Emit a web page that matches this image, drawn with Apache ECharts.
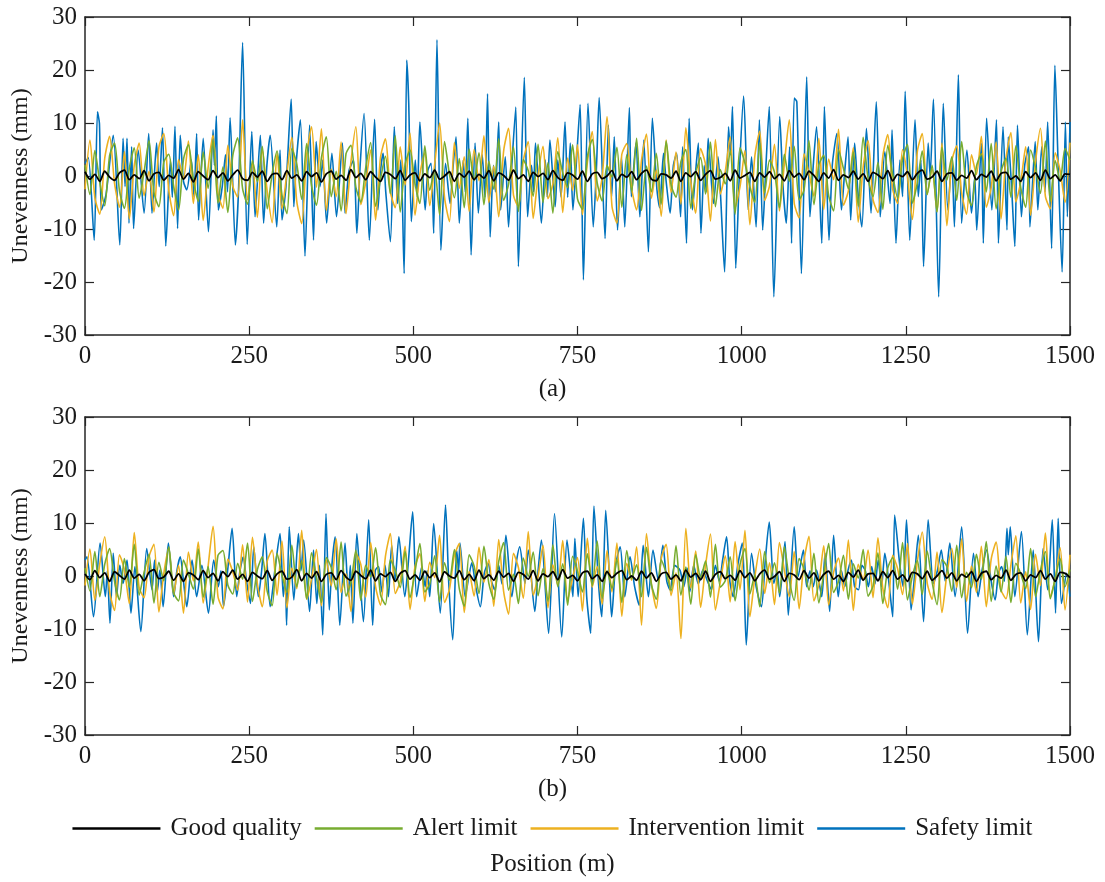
<!DOCTYPE html>
<html><head><meta charset="utf-8">
<script src="https://cdn.jsdelivr.net/npm/echarts@6/dist/echarts.min.js"></script>
<style>html,body{margin:0;padding:0;background:#fff}#c{width:1105px;height:882px}</style>
</head><body><div id="c"></div>
<script>
// ---------- DATA ----------
const seriesNames = ['Good quality', 'Alert limit', 'Intervention limit', 'Safety limit'];
const xTickValues = [0, 250, 500, 750, 1000, 1250, 1500];
const yTickValues = [-30, -20, -10, 0, 10, 20, 30];

// sample positions (m) for the evenly sampled lines: 0, 7.5, ..., 1500
const positions = [];
for (let i = 0; i <= 200; i++) positions.push(i * 7.5);

// Panel (a)
const goodA = [0.8,-0.6,0.3,-1.0,0.9,-0.2,-0.8,0.6,1.1,-0.7,0.2,-0.5,1.0,-0.9,0.4,0.7,-0.8,0.1,-0.4,1.2,
-0.6,0.5,-1.1,0.8,0.0,-0.7,1.0,-0.3,0.6,-0.9,0.2,1.1,-0.5,-0.8,0.7,-0.2,0.9,-1.0,0.3,0.5,
-0.7,1.0,-0.4,0.2,-0.9,0.8,-0.1,0.6,-1.1,0.4,0.9,-0.6,0.1,-0.8,1.2,-0.3,0.5,-0.7,0.8,-0.2,
-1.0,0.7,0.3,-0.5,1.0,-0.8,0.2,0.6,-0.9,0.4,-0.3,1.1,-0.6,0.0,0.8,-1.0,0.5,-0.2,0.9,-0.7,
0.3,-0.4,1.0,-0.9,0.6,0.1,-0.8,1.1,-0.5,0.2,-1.0,0.7,-0.1,0.5,-0.7,1.0,-0.3,-0.8,0.6,0.2,
-0.6,0.9,-1.0,0.4,0.7,-0.5,0.0,1.0,-0.9,0.3,-0.2,0.8,-0.7,0.5,1.1,-0.6,-0.9,0.4,0.2,-0.4,
0.9,-1.0,0.6,-0.1,0.8,-0.8,0.3,1.0,-0.6,-0.3,0.5,-0.9,1.1,-0.4,0.1,0.7,-1.0,0.6,-0.2,0.8,
-0.5,0.3,-0.9,1.0,-0.2,0.5,-0.7,0.9,0.1,-1.0,0.6,-0.4,1.2,-0.8,0.2,-0.3,0.9,-0.6,0.4,-1.0,
0.7,0.2,-0.5,1.0,-0.9,0.3,-0.1,0.8,-0.7,0.5,1.1,-0.6,-0.2,0.9,-1.0,0.4,0.6,-0.8,0.1,-0.4,
1.0,-0.7,0.3,-0.2,0.9,-0.9,0.5,0.7,-0.6,0.0,-1.0,0.8,-0.3,0.6,-0.8,1.1,-0.5,0.2,-0.9,0.4,0.3];

const alertA = [2.1,-3.5,4.8,-1.2,-5.6,3.9,6.2,-2.8,-6.1,1.5,5.3,-4.2,0.8,6.7,-3.1,-5.8,2.6,4.1,-1.9,-6.4,
3.2,5.9,-0.7,-4.8,4.5,-2.3,6.8,-5.1,1.7,-6.9,3.8,7.2,-2.4,-5.3,2.9,-1.1,5.6,-6.2,0.4,4.7,
-3.6,-7.1,5.2,2.3,-4.4,6.1,-1.8,-5.5,3.4,7.4,-3.9,0.9,-6.6,4.2,5.8,-2.1,-4.9,1.6,6.3,-5.7,
-0.6,3.7,-3.3,7.6,-6.8,2.2,4.9,-1.4,-5.2,5.7,-2.7,1.3,-7.3,6.5,0.3,-4.1,3.3,-6.0,5.1,-0.9,
4.4,-5.4,2.8,-2.5,7.0,-4.6,-1.6,5.5,-6.7,3.1,1.0,-3.8,6.0,-5.0,2.5,-7.0,4.6,0.6,-2.2,5.9,
-4.3,-6.3,3.6,6.9,-1.3,-4.7,2.0,-0.2,5.4,-5.9,4.0,-2.9,7.1,-6.5,1.9,-3.0,4.3,-5.3,6.6,-1.7,
-4.0,2.7,5.0,-6.1,0.5,3.5,-3.4,6.4,-5.8,1.2,-1.5,4.8,-7.2,5.3,2.4,-2.0,-5.0,6.2,-3.2,3.0,
0.7,-6.0,4.1,-1.0,5.6,-4.5,-2.6,6.7,-5.4,2.1,3.9,-3.7,-6.6,5.0,1.4,-2.4,4.5,-5.7,7.3,-0.5,
-3.9,2.6,-6.3,5.8,0.2,-4.2,3.2,6.0,-5.1,-1.3,4.7,-3.5,2.0,-6.8,5.4,-0.8,3.6,-4.6,6.5,-2.8,
-5.6,1.8,4.2,-3.0,6.1,-6.2,0.8,3.4,-4.0,5.7,-2.2,-5.9,4.9,1.5,-3.3,6.6,-4.8,2.9,-1.0,5.2,3.0];

const interventionA = [-2.5,6.8,-4.1,-7.2,3.3,7.5,-1.4,-5.9,4.6,-8.1,2.0,6.2,-3.7,0.9,-6.8,5.4,8.0,-2.6,-7.5,3.1,
-0.5,6.6,-5.2,4.0,-8.4,1.6,7.7,-3.3,-6.1,5.8,-1.9,-4.0,10.6,-4.5,2.4,-7.8,5.0,-2.9,-8.8,4.3,
-6.2,0.6,7.3,-4.8,-9.0,3.9,9.3,-2.1,8.9,-6.5,1.3,-3.9,6.4,-7.1,2.7,9.3,-5.4,-1.2,4.9,-8.3,
3.5,7.0,-3.0,-6.0,5.5,-1.7,8.1,-7.4,0.4,4.4,-5.6,2.2,10.0,-4.0,-8.6,6.3,-2.3,3.6,-6.7,5.0,
-0.9,7.6,-5.0,1.9,-7.7,4.7,9.0,-3.6,-5.8,2.9,6.5,-8.0,0.1,5.6,-4.3,-1.5,7.2,-6.9,3.4,-2.7,
5.9,-7.3,2.5,8.4,-4.7,-0.3,11.2,-5.7,-8.9,4.1,6.1,-2.4,-6.4,3.0,7.9,-4.2,1.1,-7.6,6.8,-3.1,
4.5,-5.3,9.1,-1.0,-7.0,5.2,2.1,-8.5,6.9,-3.4,0.8,7.4,-6.0,-2.0,4.8,-9.2,3.7,8.5,-4.6,-1.8,
6.0,-6.6,2.3,10.6,-5.1,-7.9,4.2,0.5,-3.8,7.1,-6.3,3.2,-0.7,8.8,-5.5,-2.8,5.3,-8.7,1.7,6.7,
-4.4,-6.9,3.8,7.8,-2.5,-5.2,5.0,-0.1,-8.2,4.6,8.0,-3.5,1.4,-6.7,6.2,-9.4,2.8,5.7,-3.2,-7.2,
4.0,0.3,7.5,-5.9,-2.2,6.4,-8.1,3.3,8.2,-4.9,-1.1,5.5,-7.4,2.6,9.0,-3.8,-6.2,4.4,1.0,-5.0,6.3];

// Safety limit, panel (a): [position m, unevenness mm] read at turning points
const safetyA = [[0,2.4],[5,3.5],[14,-12.1],[19,12.1],[22,9.9],[25,-6.4],[32,-3.5],[43,7.7],[53,-13.0],[58,7.1],[61,-2.0],[64,7.1],[67,-8.9],[71,5.5],[74,-9.9],[81,4.9],[90,-7.0],[97,8.0],[102,-7.0],[109,6.2],[113,-2.0],[118,9.1],[123,-13.2],[130,3.0],[133,-4.0],[137,9.4],[141,-9.9],[145,7.7],[150,-1.0],[155,-2.6],[162,3.0],[166,-4.0],[170,8.0],[173,-8.3],[180,7.1],[188,-10.5],[195,8.7],[197,2.0],[200,11.3],[203,-6.4],[209,-2.0],[214,4.0],[217,-3.0],[221,11.0],[229,-13.0],[234,-2.0],[240,25.2],[247,-12.9],[254,8.4],[259,-7.7],[267,7.7],[272,-8.9],[277,2.0],[282,7.7],[292,-9.6],[297,4.9],[300,-8.3],[306,-2.0],[314,14.5],[318,-5.8],[322,3.0],[328,10.6],[335,-15.1],[342,9.6],[348,-12.1],[352,6.5],[358,-2.0],[362,3.0],[368,-8.9],[376,4.3],[383,-7.7],[392,6.2],[396,-7.0],[402,1.0],[409,3.0],[414,-10.8],[419,2.0],[425,11.8],[433,-12.1],[441,10.7],[446,-6.4],[450,1.0],[454,4.3],[458,-3.0],[465,-12.4],[471,9.3],[476,-5.2],[481,3.0],[486,-18.4],[490,21.9],[493,13.7],[497,-8.6],[503,3.0],[506,-4.0],[510,10.2],[518,-6.4],[522,1.0],[527,2.4],[531,-10.8],[536,25.7],[542,-14.0],[549,2.4],[556,-5.2],[560,1.0],[565,7.4],[570,-8.9],[576,3.0],[579,-3.0],[583,10.9],[588,-14.9],[594,6.2],[599,-7.0],[605,4.0],[609,-4.0],[613,15.5],[617,-11.5],[622,2.0],[625,-3.0],[630,10.2],[633,-6.4],[640,3.6],[645,-9.6],[650,2.0],[656,13.0],[660,-17.1],[669,18.6],[674,-7.7],[680,2.0],[683,-3.0],[686,6.2],[695,-8.9],[701,3.0],[704,-4.0],[708,6.8],[716,-5.8],[720,3.0],[725,-4.0],[731,10.2],[735,-4.0],[739,6.2],[743,-6.4],[748,2.0],[754,13.5],[759,-19.6],[766,13.7],[774,-9.6],[779,2.0],[783,14.8],[792,-11.8],[797,9.6],[802,-3.9],[806,7.4],[811,-10.2],[817,3.6],[822,-9.6],[829,12.9],[832,-3.9],[839,6.2],[845,-7.7],[851,6.8],[858,-14.3],[864,10.9],[871,-2.6],[875,-6.0],[881,4.3],[885,-1.0],[891,-7.0],[896,2.0],[901,4.3],[907,-7.7],[910,5.5],[916,-12.7],[920,10.9],[925,-6.4],[930,1.0],[934,6.2],[938,-10.8],[943,2.0],[946,-3.0],[949,7.1],[957,-5.2],[964,3.6],[968,-4.0],[974,-18.1],[980,9.3],[983,4.0],[986,13.1],[991,-17.4],[997,2.0],[1003,15.1],[1010,-6.4],[1015,3.6],[1022,-9.6],[1027,10.6],[1032,-10.2],[1037,2.0],[1042,13.1],[1049,-22.8],[1058,11.2],[1063,-2.0],[1068,-8.9],[1073,5.5],[1076,-12.7],[1080,14.7],[1084,14.0],[1091,-18.4],[1099,18.7],[1104,-7.7],[1109,2.0],[1114,9.3],[1122,-12.7],[1126,13.1],[1133,-12.1],[1138,2.0],[1145,8.0],[1152,-6.4],[1157,1.0],[1162,7.4],[1166,-8.3],[1172,6.2],[1177,-3.0],[1183,-9.6],[1190,9.0],[1197,-7.0],[1205,14.0],[1211,-7.7],[1218,4.6],[1226,-5.2],[1229,8.7],[1235,-12.7],[1241,3.0],[1245,-3.9],[1249,16.0],[1256,-12.1],[1264,10.6],[1269,-3.9],[1273,3.0],[1277,-17.1],[1284,6.2],[1287,0.0],[1292,14.5],[1300,-22.8],[1307,13.7],[1314,-6.4],[1320,3.0],[1324,-9.6],[1330,19.1],[1335,-8.9],[1343,4.9],[1350,-7.0],[1355,-0.1],[1358,-10.2],[1365,6.2],[1368,-12.7],[1373,10.9],[1381,-6.4],[1388,10.6],[1391,-12.7],[1398,9.3],[1404,-10.2],[1406,7.4],[1411,-2.0],[1416,-13.3],[1420,9.6],[1426,-7.7],[1431,2.0],[1437,5.5],[1439,-9.6],[1447,6.5],[1451,-6.4],[1457,5.5],[1462,-3.0],[1466,10.2],[1472,-13.7],[1477,20.9],[1482,2.0],[1488,-18.1],[1493,10.2],[1496,-7.7],[1500,10.2]];

// Panel (b)
const goodB = [0.4,-0.7,1.0,-0.3,0.6,-1.0,0.8,0.1,-0.6,1.1,-0.4,0.3,-0.9,0.7,1.2,-0.5,-0.2,0.9,-0.8,0.4,
-1.0,0.6,0.2,-0.7,1.0,-0.3,0.5,-0.9,0.8,-0.1,1.1,-0.6,0.3,-1.0,0.7,0.0,-0.5,1.0,-0.8,0.4,
0.9,-0.6,-0.2,1.2,-0.9,0.5,-0.4,0.8,-1.0,0.3,0.6,-0.7,1.0,-0.2,-0.8,0.9,0.1,-0.5,1.1,-0.9,
0.4,-0.1,0.7,-1.0,0.5,1.0,-0.6,0.2,-0.8,0.9,-0.3,0.6,-1.1,0.8,0.0,-0.4,1.0,-0.7,0.3,-0.9,
1.1,-0.5,0.2,-0.8,0.9,-0.2,0.5,-1.0,0.7,0.3,-0.6,1.0,-0.9,0.4,-0.1,0.8,-0.7,1.2,-0.4,0.1,
-0.9,0.6,0.9,-0.5,0.2,-1.0,0.8,-0.3,0.5,1.0,-0.7,0.0,-0.8,0.9,-0.4,0.6,-1.0,0.4,0.7,-0.6,
0.2,-0.9,1.1,-0.2,0.5,-0.7,0.9,-1.0,0.3,0.8,-0.5,0.1,-0.8,1.0,-0.3,0.6,-0.9,0.4,1.1,-0.6,
-0.1,0.8,-1.0,0.5,0.2,-0.7,1.0,-0.4,0.6,-0.9,0.3,0.9,-0.6,0.1,-1.0,0.7,-0.2,1.1,-0.8,0.4,
0.5,-0.9,0.8,-0.3,1.0,-0.6,0.2,-1.0,0.7,0.4,-0.5,0.9,-0.8,0.0,1.0,-0.4,0.6,-0.9,0.3,-0.2,
0.8,-1.0,0.5,0.9,-0.7,0.1,-0.4,1.1,-0.8,0.3,0.6,-0.9,0.2,-0.3,1.0,-0.6,0.4,-1.0,0.7,0.5,-0.3];

const alertB = [1.5,-2.8,4.6,-3.9,2.2,5.2,-1.0,-4.5,3.3,-2.1,6.0,-3.6,0.7,4.1,-5.1,2.6,-0.9,5.5,-3.2,-4.7,
3.0,0.4,-2.5,5.1,-4.0,1.8,-5.3,3.9,4.8,-1.7,-3.4,2.4,-0.6,6.2,-4.8,1.2,3.6,-2.9,-5.6,4.3,
0.1,-3.1,5.8,-2.0,2.9,-4.3,4.4,-0.4,-5.0,3.5,1.6,-2.6,6.4,-3.8,-1.2,4.9,-4.6,2.0,-0.2,5.3,
-3.5,-5.4,3.1,1.1,-2.2,4.7,-4.1,0.8,6.1,-3.0,-1.5,3.8,-4.9,2.5,-0.8,5.0,-2.4,-5.7,4.0,1.9,
-3.3,5.6,-1.4,-4.4,2.7,6.3,-2.7,0.3,-5.2,3.4,-0.1,4.5,-3.7,1.4,-4.8,5.9,-2.0,2.3,-5.5,3.7,
0.9,-3.0,4.2,-1.8,6.6,-4.2,1.0,-2.3,3.2,-5.0,4.8,-0.5,2.1,-3.9,5.4,-1.6,-4.4,3.0,0.6,-2.8,
5.7,-3.6,1.7,-5.3,4.0,-0.3,2.8,-4.0,6.0,-2.1,-0.9,3.6,-4.7,2.2,5.2,-3.4,0.2,-5.8,4.6,-1.3,
2.5,-3.2,5.5,-0.7,-4.6,3.3,1.3,-2.7,4.3,-5.1,0.5,6.1,-3.1,-1.0,3.9,-4.4,2.3,-0.4,5.0,-3.8,
-1.9,4.4,-5.2,1.5,3.5,-2.5,6.3,-4.5,0.0,2.9,-3.5,4.7,-1.1,-5.4,3.1,1.8,-2.9,5.8,-4.1,0.7,
-2.2,4.1,-0.6,6.5,-4.8,1.9,-3.0,3.7,-5.0,2.4,0.4,-2.4,5.2,-3.9,1.1,4.6,-4.3,-0.5,3.3,-2.0,1.2];

const interventionB = [-1.8,5.1,-4.6,2.3,7.4,-3.0,-6.5,4.0,1.2,-5.2,8.2,-2.2,-4.1,3.6,6.0,-6.8,0.5,5.3,-3.4,2.0,
-7.0,4.5,-0.9,6.4,-5.1,1.9,9.4,-3.9,-6.2,3.2,0.8,-2.7,5.9,-4.9,7.3,-1.5,-5.8,2.8,4.9,-3.6,
6.6,-6.0,1.5,-2.4,8.6,-4.4,-0.6,5.0,-5.6,3.0,-1.9,7.0,-3.1,0.4,-6.7,4.4,2.2,-4.0,6.3,-2.0,
-5.5,3.7,8.0,-3.3,-1.0,5.6,-6.3,1.7,4.2,-4.8,2.6,-0.3,7.7,-5.0,-2.5,3.9,6.1,-6.9,0.9,-3.8,
5.4,-1.2,3.1,-5.7,6.9,-2.9,-7.2,4.3,1.6,-4.2,8.4,-3.6,0.0,5.8,-6.0,2.1,-1.7,6.7,-4.5,-0.4,
3.5,-6.6,7.1,-2.1,1.8,-5.3,4.8,-3.0,6.2,-7.6,2.4,-0.8,5.5,-9.3,8.0,-1.4,-6.1,3.3,6.0,-3.7,
0.6,-11.8,9.0,-2.3,4.7,-5.9,2.0,7.9,-6.4,-1.1,3.8,-4.9,6.5,-2.6,8.6,-7.7,-0.2,5.1,-3.3,2.5,
-5.4,6.3,1.1,-3.9,4.6,-6.2,2.9,7.5,-4.7,-1.6,5.7,-5.5,0.7,3.4,-2.8,6.8,-6.5,2.2,-0.7,4.9,
-4.1,7.2,-2.4,-6.0,3.9,1.4,-3.5,6.1,-5.3,2.7,8.3,-1.3,-4.4,4.5,-6.9,0.3,5.2,-2.2,7.0,-4.8,
1.9,-3.1,5.6,-5.8,3.2,6.4,-2.6,-4.3,2.1,7.6,-5.1,0.8,-6.3,4.1,-1.8,8.1,-3.9,-0.5,5.3,-6.4,4.0];

// Safety limit, panel (b): [position m, unevenness mm] read at turning points
const safetyB = [[0,3.0],[3,3.6],[13,-7.7],[23,6.2],[31,-3.9],[34,1.0],[38,-8.9],[43,4.3],[48,-3.9],[53,2.0],[58,-1.4],[64,3.0],[70,-7.0],[76,1.8],[85,-10.5],[94,5.2],[102,-2.6],[106,3.0],[110,-3.0],[114,1.1],[119,-5.8],[127,6.2],[135,-3.9],[140,1.0],[145,3.6],[150,-1.0],[155,-5.8],[163,3.0],[170,-3.9],[178,2.0],[188,-7.0],[196,3.0],[203,-2.0],[207,1.0],[211,-5.8],[218,2.0],[224,9.0],[231,-3.9],[236,1.0],[241,3.6],[246,-1.0],[252,-5.2],[257,5.5],[264,-3.9],[269,1.0],[274,8.0],[282,-5.8],[290,2.0],[297,8.0],[302,-3.9],[305,0.0],[307,-9.3],[311,9.3],[318,-4.5],[325,8.0],[329,1.0],[333,6.8],[342,-6.7],[348,4.9],[353,-5.2],[357,2.0],[362,-11.1],[367,11.8],[372,-6.4],[376,2.0],[381,7.4],[388,-9.3],[396,6.2],[401,-3.9],[404,2.0],[408,-8.9],[414,8.0],[419,-1.0],[424,-8.6],[432,10.6],[438,-9.3],[442,1.0],[447,1.8],[452,-3.0],[457,2.0],[462,-3.9],[467,5.8],[472,-1.0],[478,7.4],[487,-3.9],[492,2.0],[499,12.1],[505,-3.9],[513,1.8],[518,-2.0],[521,1.0],[525,-3.9],[531,9.9],[541,-7.0],[549,13.4],[554,-1.4],[560,-12.0],[566,4.9],[569,1.0],[571,6.2],[579,-3.9],[584,-0.5],[589,2.5],[595,-2.0],[602,-5.8],[608,0.5],[614,2.4],[619,-1.0],[624,-2.6],[630,2.0],[635,-1.5],[641,7.7],[650,-3.9],[656,2.0],[662,5.5],[670,-1.4],[675,4.9],[685,-6.7],[690,1.0],[695,6.8],[706,-10.8],[715,11.8],[726,-11.5],[734,6.8],[739,1.1],[743,-3.9],[746,7.1],[751,-3.9],[759,10.9],[764,-3.9],[770,-10.8],[775,13.2],[782,-1.4],[787,-7.7],[793,12.4],[799,-1.4],[802,-7.7],[808,2.0],[815,5.5],[822,-3.9],[830,3.6],[837,-2.0],[844,-5.5],[850,5.8],[858,-3.9],[865,4.9],[873,-0.8],[880,5.8],[886,-1.0],[891,-2.6],[898,2.0],[906,1.1],[912,-2.0],[917,1.5],[921,-3.0],[927,2.0],[934,-1.5],[941,1.1],[948,-1.0],[954,-2.6],[960,2.0],[966,-1.0],[971,3.0],[977,7.4],[982,-1.0],[987,-3.9],[994,2.0],[1001,6.2],[1007,-13.0],[1015,4.3],[1022,-2.0],[1030,-5.8],[1036,3.0],[1042,10.2],[1049,-1.4],[1054,1.0],[1058,-3.9],[1066,6.5],[1071,-7.4],[1080,9.3],[1086,-0.1],[1094,4.9],[1099,-2.0],[1104,1.0],[1109,-2.0],[1114,1.1],[1122,-3.9],[1127,4.3],[1134,-6.7],[1140,7.7],[1147,-3.9],[1152,1.0],[1157,-2.0],[1162,1.1],[1167,3.0],[1172,-2.0],[1178,-2.6],[1183,2.0],[1188,1.1],[1193,-2.0],[1198,1.8],[1203,-1.5],[1208,3.0],[1213,-2.0],[1218,4.3],[1224,-1.0],[1230,-7.7],[1233,11.5],[1241,1.8],[1246,-2.0],[1251,10.6],[1258,-6.4],[1264,1.0],[1269,7.7],[1277,-8.6],[1284,10.6],[1292,-1.4],[1298,1.0],[1304,4.9],[1310,-1.0],[1317,6.2],[1325,-3.9],[1335,9.3],[1344,-10.8],[1353,4.3],[1360,-3.9],[1366,1.0],[1373,4.9],[1380,-1.0],[1386,-4.5],[1391,0.5],[1396,1.8],[1400,-1.0],[1404,9.0],[1406,4.0],[1409,9.3],[1416,-3.9],[1426,8.4],[1435,-11.1],[1444,4.9],[1452,-12.4],[1459,5.2],[1466,-2.6],[1473,10.6],[1478,-7.0],[1482,10.9],[1487,-5.2],[1495,0.5],[1500,-3.9]];

// ---------- CHART ----------
const FONT = '"Liberation Serif", "Times New Roman", serif';
const AX = '#262626';
const TXT = '#1a1a1a';
const COLORS = {'Good quality': '#000000', 'Alert limit': '#77AC30', 'Intervention limit': '#EDB120', 'Safety limit': '#0072BD'};

function pair(pos, vals) { return vals.map((v, i) => [pos[i], v]); }

const gridBoxes = [
  {left: 85, top: 17, width: 985, height: 318},
  {left: 85, top: 417, width: 985, height: 318}
];

const xAxes = [], yAxes = [];
gridBoxes.forEach((g, gi) => {
  ['bottom', 'top'].forEach(p => xAxes.push({
    type: 'value', gridIndex: gi, position: p, min: 0, max: 1500, interval: 250,
    axisLine: {show: true, onZero: false, lineStyle: {color: AX, width: 1.5}},
    axisTick: {show: true, inside: true, length: 9, lineStyle: {color: AX, width: 1.2}},
    axisLabel: {show: p === 'bottom', fontFamily: FONT, fontSize: 25, color: TXT, margin: 9,
      formatter: v => String(v)},
    splitLine: {show: false}
  }));
  ['left', 'right'].forEach(p => yAxes.push({
    type: 'value', gridIndex: gi, position: p, min: -30, max: 30, interval: 10,
    name: p === 'left' ? 'Unevenness (mm)' : '', nameLocation: 'middle', nameGap: 50, nameRotate: 90,
    nameTextStyle: {fontFamily: FONT, fontSize: 24, color: TXT},
    axisLine: {show: true, onZero: false, lineStyle: {color: AX, width: 1.5}},
    axisTick: {show: true, inside: true, length: 9, lineStyle: {color: AX, width: 1.2}},
    axisLabel: {show: p === 'left', fontFamily: FONT, fontSize: 25, color: TXT, margin: 8,
      formatter: v => String(v)},
    splitLine: {show: false}
  }));
});

function line(name, data, gi) {
  return {
    type: 'line', name, data, xAxisIndex: gi * 2, yAxisIndex: gi * 2,
    symbol: 'none', showSymbol: false, animation: false, silent: true,
    smooth: 0.25,
    lineStyle: {color: COLORS[name], width: name === 'Good quality' ? 1.8 : 1.6},
    itemStyle: {color: COLORS[name]}
  };
}

const series = [
  line('Safety limit', safetyA, 0),
  line('Intervention limit', pair(positions, interventionA), 0),
  line('Alert limit', pair(positions, alertA), 0),
  line('Good quality', pair(positions, goodA), 0),
  line('Safety limit', safetyB, 1),
  line('Intervention limit', pair(positions, interventionB), 1),
  line('Alert limit', pair(positions, alertB), 1),
  line('Good quality', pair(positions, goodB), 1)
];

const chart = echarts.init(document.getElementById('c'), null, {renderer: 'canvas'});
chart.setOption({
  backgroundColor: '#ffffff',
  animation: false,
  grid: gridBoxes,
  xAxis: xAxes,
  yAxis: yAxes,
  legend: {
    data: seriesNames, top: 811, left: 'center',
    icon: 'rect', itemWidth: 88, itemHeight: 2.5, itemGap: 13,
    textStyle: {fontFamily: FONT, fontSize: 25, color: TXT, padding: [0, 0, 0, 5]}
  },
  graphic: [
    {type: 'text', left: 'center', top: 377, style: {text: '(a)', font: '25px ' + FONT, fill: TXT}},
    {type: 'text', left: 'center', top: 777, style: {text: '(b)', font: '25px ' + FONT, fill: TXT}},
    {type: 'text', left: 'center', top: 852, style: {text: 'Position (m)', font: '25px ' + FONT, fill: TXT}}
  ],
  series
});
</script></body></html>
